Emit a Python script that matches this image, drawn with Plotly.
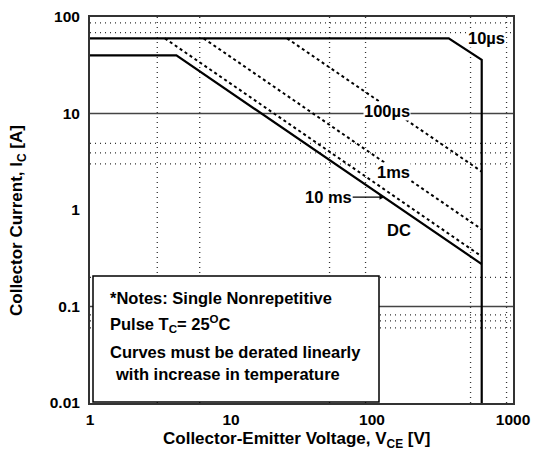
import math
import plotly.graph_objects as go

# ---------------- data ----------------
v_10us = [1, 350, 600, 600]
i_10us = [60, 60, 36, 0.01]
v_100us = [25, 600]
i_100us = [60, 2.5]
v_1ms = [6.4, 600]
i_1ms = [60, 0.63]
v_10ms = [3.4, 600]
i_10ms = [60, 0.33]
v_dc = [1, 4.1, 600]
i_dc = [40, 40, 0.275]

grid_h_solid = [10, 0.1]
grid_h_dot = [87, 69, 4.9, 3.9, 3.0, 0.2, 0.082, 0.071, 0.060]
grid_v_dot = [3, 6, 50, 90, 500, 900]

x_ticks = [1, 10, 100, 1000]
x_tick_text = ["1", "10", "100", "1000"]
y_ticks = [0.01, 0.1, 1, 10, 100]
y_tick_text = ["0.01", "0.1", "1", "10", "100"]

X_RANGE = [1, 1000]
Y_RANGE = [0.01, 100]

# ---------------- layout helpers ----------------
W, H = 535, 462
L, R, T, B = 90, 513, 17, 403    # plot area, in page pixels
FONT = "Liberation Sans, Arial, sans-serif"


def px(x):
    return (x - L) / (R - L)


def py(y):
    return (B - y) / (B - T)


def hlines(vals):
    xs, ys = [], []
    for v in vals:
        xs += [X_RANGE[0], X_RANGE[1], None]
        ys += [v, v, None]
    return xs, ys


def vlines(vals):
    xs, ys = [], []
    for v in vals:
        xs += [v, v, None]
        ys += [Y_RANGE[0], Y_RANGE[1], None]
    return xs, ys


fig = go.Figure()

# dotted grid
gx, gy = hlines(grid_h_dot)
fig.add_trace(go.Scatter(x=gx, y=gy, mode="lines", hoverinfo="skip",
                         line=dict(color="#333", width=1.3, dash="1px,4px")))
gx, gy = vlines(grid_v_dot)
fig.add_trace(go.Scatter(x=gx, y=gy, mode="lines", hoverinfo="skip",
                         line=dict(color="#333", width=1.3, dash="1px,4px")))
# solid grid
gx, gy = hlines(grid_h_solid)
fig.add_trace(go.Scatter(x=gx, y=gy, mode="lines", hoverinfo="skip",
                         line=dict(color="#444", width=1.6)))

# SOA curves
fig.add_trace(go.Scatter(x=v_100us, y=i_100us, mode="lines", name="100\u00b5s",
                         line=dict(color="black", width=2, dash="3px,3px")))
fig.add_trace(go.Scatter(x=v_1ms, y=i_1ms, mode="lines", name="1ms",
                         line=dict(color="black", width=2, dash="3px,3px")))
fig.add_trace(go.Scatter(x=v_10ms, y=i_10ms, mode="lines", name="10 ms",
                         line=dict(color="black", width=2, dash="3px,3px")))
fig.add_trace(go.Scatter(x=v_dc, y=i_dc, mode="lines", name="DC",
                         line=dict(color="black", width=2.2)))
fig.add_trace(go.Scatter(x=v_10us, y=i_10us, mode="lines", name="10\u00b5s",
                         line=dict(color="black", width=2.2)))

# notes box
fig.add_shape(type="rect", xref="paper", yref="paper",
              x0=px(93), x1=px(379), y0=py(402), y1=py(276),
              line=dict(color="black", width=1.5), fillcolor="white", layer="above")

lab_font = dict(family=FONT, size=16.5, color="black", weight="bold")


def lab(text, v, i, **kw):
    d = dict(x=math.log10(v), y=math.log10(i), xref="x", yref="y", text=text,
             showarrow=False, font=lab_font, bgcolor="white", borderpad=0,
             xanchor="center", yanchor="middle")
    d.update(kw)
    fig.add_annotation(**d)


lab("10\u00b5s", 646, 60)
lab("100\u00b5s", 127, 10.6)
lab("1ms", 141.6, 2.5)
lab("DC", 155, 0.62, bgcolor="rgba(0,0,0,0)")
fig.add_annotation(x=math.log10(123), y=math.log10(1.36), xref="x", yref="y",
                   text="10 ms", showarrow=True, ax=-56, ay=0,
                   arrowhead=2, arrowsize=0.8, arrowwidth=1.3, arrowcolor="black",
                   font=lab_font, bgcolor="white", borderpad=0)

note_font = dict(family=FONT, size=16.5, color="black", weight="bold")
notes = [
    ("*Notes: Single Nonrepetitive", 108, 298),
    ("Pulse T<sub>C</sub>= 25<sup>O</sup>C", 108, 324),
    ("Curves must be derated linearly", 108, 352),
    ("with increase in temperature", 113, 374),
]
for txt, x0, y0 in notes:
    fig.add_annotation(x=px(x0), y=py(y0), xref="paper", yref="paper",
                       xanchor="left", yanchor="middle", text=txt,
                       showarrow=False, font=note_font)

title_font = dict(family=FONT, size=17, color="black", weight="bold")
fig.add_annotation(x=px(296), y=py(440), xref="paper", yref="paper",
                   xanchor="center", yanchor="middle",
                   text="Collector-Emitter Voltage, V<sub>CE</sub> [V]",
                   showarrow=False, font=title_font)
fig.add_annotation(x=px(18), y=py(221), xref="paper", yref="paper",
                   xanchor="center", yanchor="middle",
                   text="Collector Current, I<sub>C</sub> [A]", textangle=-90,
                   showarrow=False, font=title_font)

tick_font = dict(family=FONT, size=15.5, color="black", weight="bold")
fig.update_layout(
    width=W, height=H,
    margin=dict(l=L, r=W - R, t=T, b=H - B, autoexpand=False),
    paper_bgcolor="white", plot_bgcolor="white",
    showlegend=False,
    xaxis=dict(type="log", range=[math.log10(X_RANGE[0]), math.log10(X_RANGE[1])],
               tickvals=x_ticks, ticktext=x_tick_text, tickfont=tick_font,
               showgrid=False, zeroline=False, ticks="", ticklabelstandoff=1,
               automargin=False,
               showline=True, mirror=True, linecolor="#333", linewidth=2),
    yaxis=dict(type="log", range=[math.log10(Y_RANGE[0]), math.log10(Y_RANGE[1])],
               tickvals=y_ticks, ticktext=y_tick_text, tickfont=tick_font,
               showgrid=False, zeroline=False, ticks="", ticklabelstandoff=5,
               automargin=False,
               showline=True, mirror=True, linecolor="#333", linewidth=2),
)

fig.write_html(
    "out.html",
    config={"displayModeBar": False},
    post_script="document.body.style.margin='0px';document.body.style.overflow='hidden';",
)
